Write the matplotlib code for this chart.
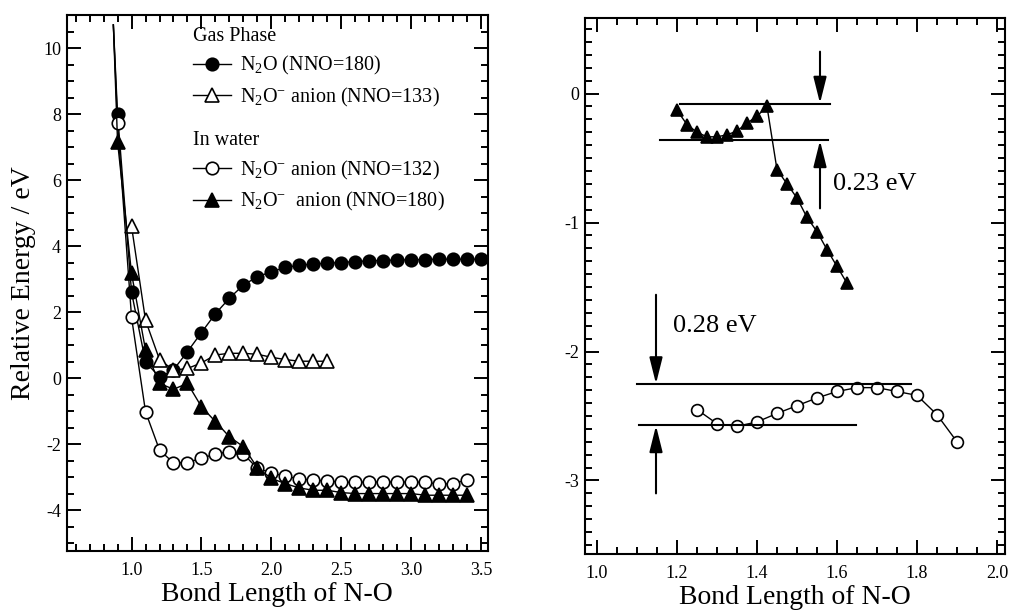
import matplotlib

matplotlib.use("Agg")
import matplotlib.pyplot as plt
from matplotlib.ticker import MultipleLocator

plt.rcParams["font.family"] = ["Liberation Serif", "DejaVu Serif"]
plt.rcParams["mathtext.fontset"] = "custom"
plt.rcParams["mathtext.rm"] = "Liberation Serif"
plt.rcParams["mathtext.it"] = "Liberation Serif:italic"
plt.rcParams["axes.unicode_minus"] = False

# ---- left panel: full scan, step 0.1 A ----
top_x, top_y = 0.87, 10.7  # where the steep branch leaves the frame

gas_n2o_x = [0.9, 1.0, 1.1, 1.2, 1.3, 1.4, 1.5, 1.6, 1.7, 1.8, 1.9, 2.0, 2.1, 2.2,
             2.3, 2.4, 2.5, 2.6, 2.7, 2.8, 2.9, 3.0, 3.1, 3.2, 3.3, 3.4, 3.5]
gas_n2o_y = [8.0, 2.6, 0.49, 0.03, 0.25, 0.80, 1.38, 1.95, 2.42, 2.82, 3.07, 3.22,
             3.35, 3.42, 3.45, 3.48, 3.50, 3.53, 3.55, 3.56, 3.58, 3.58, 3.59, 3.60,
             3.60, 3.60, 3.60]

gas_anion_x = [1.0, 1.1, 1.2, 1.3, 1.4, 1.5, 1.6, 1.7, 1.8, 1.9, 2.0, 2.1, 2.2, 2.3, 2.4]
gas_anion_y = [4.6, 1.75, 0.56, 0.24, 0.29, 0.46, 0.70, 0.75, 0.75, 0.72, 0.63, 0.56,
               0.51, 0.51, 0.51]

wat_132_x = [0.9, 1.0, 1.1, 1.2, 1.3, 1.4, 1.5, 1.6, 1.7, 1.8, 1.9, 2.0, 2.1, 2.2,
             2.3, 2.4, 2.5, 2.6, 2.7, 2.8, 2.9, 3.0, 3.1, 3.2, 3.3, 3.4]
wat_132_y = [7.72, 1.84, -1.02, -2.18, -2.57, -2.56, -2.43, -2.30, -2.23, -2.30, -2.74,
             -2.87, -2.98, -3.05, -3.10, -3.11, -3.16, -3.16, -3.15, -3.15, -3.15,
             -3.15, -3.16, -3.21, -3.20, -3.08]

wat_180_x = wat_132_x
wat_180_y = [7.16, 3.17, 0.85, -0.16, -0.34, -0.16, -0.87, -1.32, -1.78, -2.08, -2.72,
             -3.04, -3.20, -3.33, -3.40, -3.40, -3.47, -3.50, -3.50, -3.50, -3.50,
             -3.50, -3.55, -3.55, -3.55, -3.55]

# ---- right panel: zoom on the in-water anion curves ----
zoom_180_x = [1.2, 1.225, 1.25, 1.275, 1.3, 1.325, 1.35, 1.375, 1.4, 1.425, 1.45,
              1.475, 1.5, 1.525, 1.55, 1.575, 1.6, 1.625]
zoom_180_y = [-0.13, -0.24, -0.30, -0.335, -0.335, -0.32, -0.29, -0.23, -0.175, -0.10,
              -0.59, -0.70, -0.81, -0.96, -1.07, -1.21, -1.34, -1.47]

zoom_132_x = [1.25, 1.3, 1.35, 1.4, 1.45, 1.5, 1.55, 1.6, 1.65, 1.7, 1.75, 1.8, 1.85, 1.9]
zoom_132_y = [-2.45, -2.56, -2.58, -2.546, -2.48, -2.42, -2.36, -2.31, -2.28, -2.28,
              -2.31, -2.34, -2.49, -2.70]

# barrier guide lines: (x_start, x_end, y)
guide_lines = [(1.208, 1.583, -0.08), (1.158, 1.578, -0.36),
               (1.100, 1.784, -2.254), (1.106, 1.648, -2.57)]
# arrows: (x, y_tail, y_tip)
arrows = [(1.5575, 0.325, -0.075), (1.5575, -0.89, -0.365),
          (1.1475, -1.56, -2.25), (1.1475, -3.10, -2.575)]
barrier_labels = [("0.23 eV", 1.59, -0.70), ("0.28 eV", 1.19, -1.80)]

W, H = 1013, 616
fig = plt.figure(figsize=(W / 100, H / 100), dpi=100)
ax1 = fig.add_axes([66.5 / W, 1 - 551 / H, 421 / W, 536 / H])
ax2 = fig.add_axes([585 / W, 1 - 554 / H, 420 / W, 536 / H])

line_kw = dict(color="black", lw=1.0, mew=1.2, mec="black")


def with_top(xs, ys):
    return [top_x] + list(xs), [top_y] + list(ys)


x, y = with_top(gas_n2o_x, gas_n2o_y)
h1, = ax1.plot(x, y, marker="o", ms=9, mfc="black", markevery=slice(1, None),
               label="N$_2$O (NNO=180)", **line_kw)
h2, = ax1.plot(gas_anion_x, gas_anion_y, marker="^", ms=9.5, mfc="white",
               label="N$_2$O$^{-}$ anion (NNO=133)", **line_kw)
x, y = with_top(wat_132_x, wat_132_y)
h3, = ax1.plot(x, y, marker="o", ms=9, mfc="white", markevery=slice(1, None),
               label="N$_2$O$^{-}$ anion (NNO=132)", **line_kw)
x, y = with_top(wat_180_x, wat_180_y)
h4, = ax1.plot(x, y, marker="^", ms=10, mfc="black", markevery=slice(1, None),
               label="N$_2$O$^{-}$  anion (NNO=180)", **line_kw)

leg_kw = dict(loc="upper left", frameon=False, fontsize=14.5, title_fontsize=14.5,
              alignment="left", borderpad=0, borderaxespad=0, handlelength=1.9,
              handletextpad=0.45, labelspacing=0.42)
leg1 = ax1.legend(handles=[h1, h2], title="Gas Phase",
                  bbox_to_anchor=(0.30, 0.978), **leg_kw)
ax1.add_artist(leg1)
ax1.legend(handles=[h3, h4], title="In water", bbox_to_anchor=(0.30, 0.783), **leg_kw)

ax1.set_xlim(0.535, 3.545)
ax1.set_ylim(-5.24, 11.0)
ax1.xaxis.set_major_locator(MultipleLocator(0.5))
ax1.xaxis.set_minor_locator(MultipleLocator(0.1))
ax1.yaxis.set_major_locator(MultipleLocator(2))
ax1.yaxis.set_minor_locator(MultipleLocator(0.5))
ax1.set_xlabel("Bond Length of N-O", fontsize=20, labelpad=2)
ax1.set_ylabel("Relative Energy / eV", fontsize=20, labelpad=5)

ax2.plot(zoom_180_x, zoom_180_y, marker="^", ms=8, mfc="black", **line_kw)
ax2.plot(zoom_132_x, zoom_132_y, marker="o", ms=8.5, mfc="white", **line_kw)
for x0, x1, yv in guide_lines:
    ax2.plot([x0, x1], [yv, yv], color="black", lw=1.5)
for xa, y_tail, y_tip in arrows:
    ax2.annotate("", xy=(xa, y_tip), xytext=(xa, y_tail),
                 arrowprops=dict(arrowstyle="-|>,head_length=0.8,head_width=0.2",
                                 mutation_scale=20, color="black", lw=1.5,
                                 shrinkA=0, shrinkB=0))
for txt, xt, yt in barrier_labels:
    ax2.text(xt, yt, txt, fontsize=19, ha="left", va="center")

ax2.set_xlim(0.97, 2.02)
ax2.set_ylim(-3.57, 0.586)
ax2.xaxis.set_major_locator(MultipleLocator(0.2))
ax2.xaxis.set_minor_locator(MultipleLocator(0.05))
ax2.yaxis.set_major_locator(MultipleLocator(1))
ax2.yaxis.set_minor_locator(MultipleLocator(0.1))
ax2.set_xlabel("Bond Length of N-O", fontsize=20, labelpad=2)

for ax in (ax1, ax2):
    for sp in ax.spines.values():
        sp.set_linewidth(1.5)
    ax.tick_params(which="both", direction="in", top=True, right=True,
                   width=1.4, labelsize=13)
    ax.tick_params(which="major", length=10)
    ax.tick_params(which="minor", length=5)
    ax.tick_params(axis="x", pad=8)
    ax.tick_params(axis="y", pad=4)
ax2.yaxis.set_major_formatter(plt.FuncFormatter(lambda v, p: f"{v:.0f}"))

fig.savefig("out.png", dpi=100)
